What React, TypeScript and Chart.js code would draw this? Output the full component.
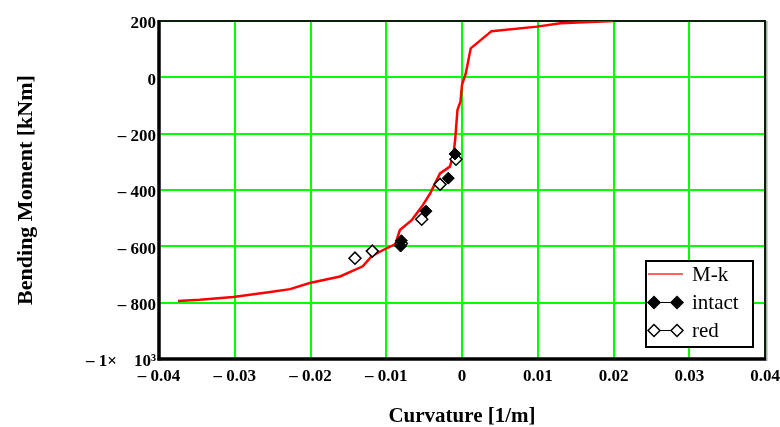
import React, { useEffect, useRef } from "react";
import { Chart, registerables } from "chart.js";

Chart.register(...registerables);

// M-k curve (curvature [1/m], moment [kNm])
const mkX = [-0.0375, -0.0346, -0.0302, -0.0253, -0.0227, -0.0201, -0.0161, -0.0131, -0.0119, -0.0104, -0.0088, -0.0082, -0.0066, -0.0053, -0.0042, -0.0029, -0.0016, -0.00115, -0.0009, -0.0006, -0.0002, 0.0, 0.0005, 0.00115, 0.0039, 0.0099, 0.013, 0.02];
const mkY = [-794, -790, -780, -762, -752, -730, -707, -671, -634, -613, -592, -542, -506, -459, -412, -341, -317, -276, -222, -116, -86, -27, 14, 103, 164, 180, 192, 200];

// intact (filled diamonds)
const intactX = [-0.0081, -0.0080, -0.00475, -0.00181, -0.00092];
const intactY = [-599, -580, -475, -358, -272];

// red (open diamonds)
const redX = [-0.01413, -0.01184, -0.0080, -0.00532, -0.0029, -0.00079];
const redY = [-642, -617, -590, -504, -380, -291];

const seriesNames = ["M-k", "intact", "red"];
const xTitle = "Curvature [1/m]";
const yTitle = "Bending Moment [kNm]";
const xMin = -0.04, xMax = 0.04, xStep = 0.01;
const yMin = -1000, yMax = 200, yStep = 200;

const SERIF = "'Liberation Serif', 'Times New Roman', serif";

function fmtX(v: number): string {
  if (Math.abs(v) < 1e-9) return "0";
  const s = Math.abs(v).toFixed(2);
  return v < 0 ? "\u2013 " + s : s;
}
function fmtY(v: number): string {
  if (Math.abs(v + 1000) < 1e-6) return "\u2013 1\u00d7    10\u00b3";
  if (Math.abs(v) < 1e-9) return "0";
  return v < 0 ? "\u2013 " + Math.abs(v) : String(v);
}

const zip = (xs: number[], ys: number[]) => xs.map((x, i) => ({ x, y: ys[i] }));

function diamond(ctx: CanvasRenderingContext2D, x: number, y: number, r: number, filled: boolean) {
  ctx.beginPath();
  ctx.moveTo(x - r, y);
  ctx.lineTo(x, y - r);
  ctx.lineTo(x + r, y);
  ctx.lineTo(x, y + r);
  ctx.closePath();
  ctx.fillStyle = filled ? "#000" : "#fff";
  ctx.fill();
  ctx.strokeStyle = "#000";
  ctx.lineWidth = 1.5;
  ctx.stroke();
}

const framePlugin = {
  id: "frame",
  beforeDatasetsDraw(chart: any) {
    const { ctx, chartArea: a } = chart;
    ctx.save();
    const line = (x1: number, y1: number, x2: number, y2: number) => {
      ctx.beginPath();
      ctx.moveTo(x1, y1);
      ctx.lineTo(x2, y2);
      ctx.stroke();
    };
    ctx.strokeStyle = "#a8a8a8";
    ctx.lineWidth = 2;
    line(a.right + 1.5, a.top, a.right + 1.5, a.bottom + 2);
    ctx.strokeStyle = "#0b1f0b";
    ctx.lineWidth = 2;
    line(a.left, a.top, a.right + 1, a.top);
    line(a.right, a.top, a.right, a.bottom);
    ctx.strokeStyle = "#000";
    ctx.lineWidth = 3.5;
    line(a.left, a.top - 1, a.left, a.bottom + 1.5);
    line(a.left - 1.5, a.bottom, a.right + 1, a.bottom);
    ctx.restore();
  },
};

const legendPlugin = {
  id: "customLegend",
  afterDraw(chart: any) {
    const { ctx } = chart;
    ctx.save();
    const bx = 646, by = 261, bw = 107, bh = 86;
    ctx.fillStyle = "#fff";
    ctx.fillRect(bx, by, bw, bh);
    ctx.strokeStyle = "#000";
    ctx.lineWidth = 2;
    ctx.strokeRect(bx, by, bw, bh);
    const ys = [274, 302.5, 330.5];
    const x1 = 648, x2 = 683;
    ctx.strokeStyle = "#ff3030";
    ctx.lineWidth = 1.5;
    ctx.beginPath();
    ctx.moveTo(x1, ys[0]);
    ctx.lineTo(x2, ys[0]);
    ctx.stroke();
    for (let i = 1; i < 3; i++) {
      ctx.strokeStyle = "#000";
      ctx.lineWidth = 1;
      ctx.beginPath();
      ctx.moveTo(654, ys[i]);
      ctx.lineTo(677, ys[i]);
      ctx.stroke();
      diamond(ctx, 654, ys[i], 6, i === 1);
      diamond(ctx, 677, ys[i], 6, i === 1);
    }
    ctx.fillStyle = "#000";
    ctx.font = `21px ${SERIF}`;
    ctx.textAlign = "left";
    ctx.textBaseline = "middle";
    seriesNames.forEach((n, i) => ctx.fillText(n, 692, ys[i] + 1));
    ctx.restore();
  },
};

export default function App() {
  const ref = useRef<HTMLCanvasElement>(null);
  useEffect(() => {
    if (!ref.current) return;
    const gridColor = (edgeMin: number, edgeMax: number) => (c: any) => {
      const v = c.tick ? c.tick.value : 0;
      if (Math.abs(v - edgeMin) < 1e-9 || Math.abs(v - edgeMax) < 1e-9) return "rgba(0,0,0,0)";
      return "#00ff00";
    };
    const chart = new Chart(ref.current, {
      type: "line",
      data: {
        datasets: [
          {
            label: seriesNames[1],
            data: zip(intactX, intactY),
            showLine: false,
            pointStyle: "rectRot",
            pointRadius: 6,
            pointBackgroundColor: "#000",
            pointBorderColor: "#000",
            pointBorderWidth: 1,
            order: 1,
          },
          {
            label: seriesNames[2],
            data: zip(redX, redY),
            showLine: false,
            pointStyle: "rectRot",
            pointRadius: 6,
            pointBackgroundColor: "#fff",
            pointBorderColor: "#000",
            pointBorderWidth: 1.5,
            order: 2,
          },
          {
            label: seriesNames[0],
            data: zip(mkX, mkY),
            borderColor: "#ff0000",
            borderWidth: 2.5,
            pointRadius: 0,
            fill: false,
            tension: 0,
            order: 3,
          },
        ],
      },
      options: {
        responsive: false,
        animation: false,
        layout: { padding: { left: 0, right: 15, top: 21, bottom: 0 } },
        plugins: { legend: { display: false }, tooltip: { enabled: false } },
        scales: {
          x: {
            type: "linear",
            min: xMin,
            max: xMax,
            ticks: {
              stepSize: xStep,
              callback: (v: any) => fmtX(Number(v)),
              font: { family: SERIF, weight: "bold", size: 17 },
              color: "#000",
              padding: 7,
              maxRotation: 0,
              autoSkip: false,
            },
            grid: { color: gridColor(xMin, xMax), lineWidth: 2, drawTicks: false },
            border: { display: false },
            title: {
              display: true,
              text: xTitle,
              font: { family: SERIF, weight: "bold", size: 21, lineHeight: 1 },
              color: "#000",
              padding: 0,
            },
            afterFit: (s: any) => {
              s.height = 68;
              s.paddingLeft = 0;
              s.paddingRight = 0;
            },
          },
          y: {
            type: "linear",
            min: yMin,
            max: yMax,
            ticks: {
              stepSize: yStep,
              callback: (v: any) => fmtY(Number(v)),
              font: { family: SERIF, weight: "bold", size: 17 },
              color: "#000",
              padding: 3,
              labelOffset: 3,
              autoSkip: false,
            },
            grid: { color: gridColor(yMin, yMax), lineWidth: 2, drawTicks: false },
            border: { display: false },
            title: {
              display: true,
              text: yTitle,
              font: { family: SERIF, weight: "bold", size: 22, lineHeight: 1 },
              color: "#000",
              padding: { top: 15, bottom: 15 },
            },
            afterFit: (s: any) => {
              s.width = 159;
              s.paddingTop = 0;
              s.paddingBottom = 0;
            },
          },
        },
      },
      plugins: [framePlugin, legendPlugin],
    } as any);
    return () => chart.destroy();
  }, []);
  return (
    <div style={{ position: "absolute", left: 0, top: 0, width: 780, height: 427, background: "#fff" }}>
      <canvas ref={ref} width={780} height={427} style={{ display: "block" }} />
    </div>
  );
}
